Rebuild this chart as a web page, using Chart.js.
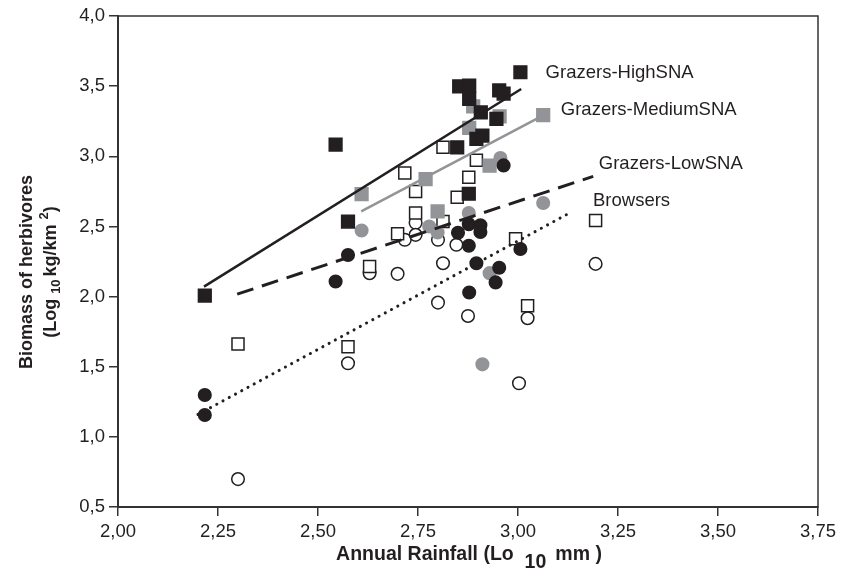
<!DOCTYPE html>
<html>
<head>
<meta charset="utf-8">
<script src="https://cdn.jsdelivr.net/npm/chart.js@4.4.0/dist/chart.umd.min.js"></script>
<style>
  html, body { margin: 0; padding: 0; background: #fff; }
</style>
</head>
<body>
<canvas id="chart" width="841" height="573"></canvas>
<script>
// Biomass of herbivores vs annual rainfall (both log10), six marker groups + four trend lines.

const INK  = '#231f20';
const GREY = '#929497';
const FONT = '"Liberation Sans", Arial, Helvetica, sans-serif';

// Axis ticks
const X_TICKS = [2.00, 2.25, 2.50, 2.75, 3.00, 3.25, 3.50, 3.75];
const Y_TICKS = [0.5, 1.0, 1.5, 2.0, 2.5, 3.0, 3.5, 4.0];

// Black filled squares
const blackSqX = [2.217, 2.544, 2.575, 2.853, 2.878, 2.878, 2.953, 2.964, 3.006, 2.907, 2.946, 2.896, 2.911, 2.848, 2.877];
const blackSqY = [2.007, 3.083, 2.535, 3.499, 3.504, 3.409, 3.470, 3.447, 3.599, 3.313, 3.266, 3.124, 3.147, 3.064, 2.733];

// Grey filled squares
const greySqX = [2.609, 2.769, 2.799, 2.888, 2.954, 2.878, 2.929, 3.063];
const greySqY = [2.731, 2.838, 2.607, 3.356, 3.285, 3.202, 2.933, 3.293];

// Open squares
const openSqX = [2.300, 2.575, 2.629, 2.699, 2.717, 2.744, 2.744, 2.848, 2.877, 2.8125, 2.994, 2.8125, 2.896, 3.024, 3.194];
const openSqY = [1.662, 1.643, 2.214, 2.448, 2.881, 2.749, 2.595, 2.708, 2.851, 2.535, 2.412, 3.064, 2.971, 1.934, 2.542];

// Black filled circles
const blackCiX = [2.217, 2.217, 2.575, 2.544, 2.850, 2.877, 2.906, 2.906, 2.877, 2.896, 2.953, 2.944, 2.878, 3.006, 2.964];
const blackCiY = [1.298, 1.156, 2.296, 2.107, 2.455, 2.515, 2.508, 2.460, 2.362, 2.238, 2.205, 2.101, 2.029, 2.339, 2.935];

// Grey filled circles
const greyCiX = [2.609, 2.778, 2.799, 2.877, 2.929, 3.063, 2.911, 2.956];
const greyCiY = [2.471, 2.500, 2.457, 2.595, 2.167, 2.667, 1.517, 2.988];

// Open circles
const openCiX = [2.300, 2.575, 2.629, 2.699, 2.717, 2.744, 2.744, 2.800, 2.846, 2.8125, 2.800, 2.875, 3.024, 3.0025, 3.194];
const openCiY = [0.699, 1.525, 2.167, 2.162, 2.405, 2.526, 2.440, 2.405, 2.369, 2.238, 1.957, 1.862, 1.846, 1.382, 2.233];

// Trend line end points [start, end]
const highLineX   = [2.215, 3.008];  const highLineY   = [2.071, 3.480];
const mediumLineX = [2.608, 3.063];  const mediumLineY = [2.607, 3.292];
const lowLineX    = [2.298, 3.188];  const lowLineY    = [2.017, 2.857];
const browseLineX = [2.200, 3.136];  const browseLineY = [1.160, 2.607];

// Line labels, anchored (left / middle) in data space
const lineLabels = ['Grazers-HighSNA', 'Grazers-MediumSNA', 'Grazers-LowSNA', 'Browsers'];
const lineLabelX = [3.069, 3.107, 3.202, 3.1875];
const lineLabelY = [3.597, 3.333, 2.945, 2.680];

function pts(xs, ys) {
    return xs.map((x, i) => ({ x: x, y: ys[i] }));
}
function comma(v, d) {
    return Number(v).toFixed(d).replace('.', ',');
}

function markerSet(label, xs, ys, style, fill, edge, radius) {
    return {
        type: 'scatter', label: label, data: pts(xs, ys),
        pointStyle: style, pointRadius: radius, pointHoverRadius: radius,
        backgroundColor: fill, borderColor: edge, borderWidth: 1.5
    };
}
function trendSet(label, xs, ys, color, width, dash, cap) {
    return {
        type: 'line', label: label, data: pts(xs, ys),
        borderColor: color, borderWidth: width, borderDash: dash,
        borderCapStyle: cap || 'butt', pointRadius: 0, fill: false, tension: 0
    };
}

// draws a run of text pieces with sub/superscripts, centred on (cx, cy)
function drawRich(ctx, pieces, cx, cy, rotate) {
    ctx.save();
    ctx.translate(cx, cy);
    if (rotate) ctx.rotate(-Math.PI / 2);
    ctx.textBaseline = 'middle';
    ctx.textAlign = 'left';
    let total = 0;
    pieces.forEach(p => { ctx.font = p.font; total += ctx.measureText(p.t).width + (p.gap || 0); });
    let x = -total / 2;
    pieces.forEach(p => {
        ctx.font = p.font;
        ctx.fillText(p.t, x, p.dy || 0);
        x += ctx.measureText(p.t).width + (p.gap || 0);
    });
    ctx.restore();
}

const decorPlugin = {
    id: 'decor',
    afterDraw(chart) {
        const { ctx, chartArea: a, scales } = chart;
        ctx.save();
        // frame round the plot
        ctx.strokeStyle = '#333';
        ctx.lineWidth = 1.5;
        ctx.strokeRect(a.left, a.top, a.right - a.left, a.bottom - a.top);

        ctx.fillStyle = INK;
        ctx.font = '18.5px ' + FONT;
        ctx.textBaseline = 'middle';
        ctx.textAlign = 'left';
        lineLabels.forEach((t, i) => {
            ctx.fillText(t, scales.x.getPixelForValue(lineLabelX[i]), scales.y.getPixelForValue(lineLabelY[i]));
        });

        const b = 'bold 18px ' + FONT;
        const s = 'bold 13px ' + FONT;
        drawRich(ctx, [{ t: 'Biomass of herbivores', font: b }], 27, 272, true);
        drawRich(ctx, [
            { t: '(Log ', font: b },
            { t: '10', font: s, dy: 5, gap: 3 },
            { t: 'kg/km ', font: b },
            { t: '2', font: s, dy: -7 },
            { t: ')', font: b }
        ], 51, 272, true);
        const bx = 'bold 19.5px ' + FONT;
        drawRich(ctx, [
            { t: 'Annual Rainfall (Lo  ', font: bx },
            { t: '10', font: bx, dy: 8, gap: 9 },
            { t: 'mm )', font: bx }
        ], 469, 555, false);
        ctx.restore();
    }
};

const datasets = [
    trendSet('HighSNA line',   highLineX,   highLineY,   INK,  2.5, []),
    trendSet('MediumSNA line', mediumLineX, mediumLineY, GREY, 2.5, []),
    trendSet('LowSNA line',    lowLineX,    lowLineY,    INK,  3,   [17, 9]),
    trendSet('Browsers line',  browseLineX, browseLineY, INK,  3,   [0.1, 7], 'round'),
    markerSet('Black squares', blackSqX, blackSqY, 'rect',   INK,   INK,  9),
    markerSet('Black circles', blackCiX, blackCiY, 'circle', INK,   INK,  6.3),
    markerSet('Grey squares',  greySqX,  greySqY,  'rect',   GREY,  GREY, 9),
    markerSet('Grey circles',  greyCiX,  greyCiY,  'circle', GREY,  GREY, 6.3),
    markerSet('Open squares',  openSqX,  openSqY,  'rect',   '#fff', INK, 8.5),
    markerSet('Open circles',  openCiX,  openCiY,  'circle', '#fff', INK, 6.3)
];

new Chart(document.getElementById('chart').getContext('2d'), {
    type: 'scatter',
    data: { datasets },
    options: {
        responsive: false,
        animation: false,
        layout: { padding: { left: 0, right: 23, top: 16, bottom: 0 } },
        plugins: { legend: { display: false }, tooltip: { enabled: false } },
        scales: {
            x: {
                type: 'linear', min: 2, max: 3.75,
                afterBuildTicks: sc => { sc.ticks = X_TICKS.map(v => ({ value: v })); },
                afterFit: sc => { sc.height = 66; },
                ticks: { autoSkip: false, maxRotation: 0, padding: 5, color: INK,
                         font: { family: FONT, size: 18.5 }, callback: v => comma(v, 2) },
                grid: { drawOnChartArea: false, drawTicks: true, tickLength: 9, color: '#333', lineWidth: 1.5 },
                border: { display: true, color: '#333', width: 2 }
            },
            y: {
                type: 'linear', min: 0.5, max: 4,
                afterBuildTicks: sc => { sc.ticks = Y_TICKS.map(v => ({ value: v })); },
                afterFit: sc => { sc.width = 118; },
                ticks: { autoSkip: false, padding: 4, color: INK,
                         font: { family: FONT, size: 18.5 }, callback: v => comma(v, 1) },
                grid: { drawOnChartArea: false, drawTicks: true, tickLength: 9, color: '#333', lineWidth: 1.5 },
                border: { display: true, color: '#333', width: 2 }
            }
        }
    },
    plugins: [decorPlugin]
});
</script>
</body>
</html>
